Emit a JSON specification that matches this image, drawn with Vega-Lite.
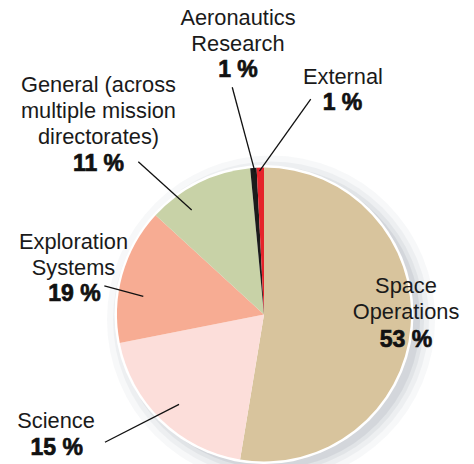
{
  "$schema": "https://vega.github.io/schema/vega-lite/v6.json",
  "width": 474,
  "height": 464,
  "autosize": {"type": "none"},
  "padding": 0,
  "background": "white",
  "config": {"view": {"stroke": null}},
  "datasets": {
    "slices": [
      {"name": "Space Operations", "share": 52.6, "i": 1},
      {"name": "Science", "share": 19.3, "i": 2},
      {"name": "Exploration Systems", "share": 14.9, "i": 3},
      {"name": "General (across multiple mission directorates)", "share": 11.7, "i": 4},
      {"name": "Aeronautics Research", "share": 0.7, "i": 5},
      {"name": "External", "share": 0.8, "i": 6}
    ],
    "labels": [
      {"label": "Aeronautics\nResearch", "x": -17.7, "y": 196.9, "pct": "1 %", "pctX": -17.7, "pctY": 161.4},
      {"label": "External", "x": 53.7, "y": 157.1, "pct": "1 %", "pctX": 53.4, "pctY": 139.1},
      {"label": "General (across\nmultiple mission\ndirectorates)", "x": -112.6, "y": 151.4, "pct": "11 %", "pctX": -112.6, "pctY": 97.8},
      {"label": "Exploration\nSystems", "x": -129.6, "y": 44.6, "pct": "19 %", "pctX": -128.9, "pctY": 9.2},
      {"label": "Space\nOperations", "x": 96.6, "y": 14.4, "pct": "53 %", "pctX": 96.6, "pctY": -21.9},
      {"label": "Science", "x": -141.5, "y": -77.4, "pct": "15 %", "pctX": -141.0, "pctY": -95.6}
    ],
    "leaders": [
      {"for": "Aeronautics Research", "x1": -21.6, "y1": 154.6, "x2": -6.1, "y2": 96.9},
      {"for": "External", "x1": 31.8, "y1": 146.6, "x2": -3.1, "y2": 97.6},
      {"for": "General", "x1": -85.5, "y1": 103.9, "x2": -49.2, "y2": 71.1},
      {"for": "Exploration Systems", "x1": -108.6, "y1": 19.4, "x2": -82.1, "y2": 12.4},
      {"for": "Science", "x1": -108.2, "y1": -86.9, "x2": -57.8, "y2": -61.1}
    ]
  },
  "layer": [
    {
      "data": {"name": "slices"},
      "transform": [{"aggregate": [{"op": "sum", "field": "share", "as": "total"}]}],
      "mark": {"type": "arc", "outerRadius": 164, "fill": "#7d8894", "opacity": 0.06},
      "encoding": {
        "theta": {"field": "total", "type": "quantitative"},
        "x": {"datum": 4.8, "type": "quantitative", "scale": {"domain": [-179.59, 142.86], "nice": false, "zero": false}, "axis": null},
        "y": {"datum": -3.4, "type": "quantitative", "scale": {"domain": [-101.7, 213.95], "nice": false, "zero": false}, "axis": null}
      }
    },
    {
      "data": {"name": "slices"},
      "transform": [{"aggregate": [{"op": "sum", "field": "share", "as": "total"}]}],
      "mark": {"type": "arc", "outerRadius": 158, "fill": "#7d8894", "opacity": 0.08},
      "encoding": {
        "theta": {"field": "total", "type": "quantitative"},
        "x": {"datum": 4.8, "type": "quantitative", "scale": {"domain": [-179.59, 142.86], "nice": false, "zero": false}, "axis": null},
        "y": {"datum": -3.4, "type": "quantitative", "scale": {"domain": [-101.7, 213.95], "nice": false, "zero": false}, "axis": null}
      }
    },
    {
      "data": {"name": "slices"},
      "transform": [{"aggregate": [{"op": "sum", "field": "share", "as": "total"}]}],
      "mark": {"type": "arc", "outerRadius": 153, "fill": "#7d8894", "opacity": 0.1},
      "encoding": {
        "theta": {"field": "total", "type": "quantitative"},
        "x": {"datum": 4.8, "type": "quantitative", "scale": {"domain": [-179.59, 142.86], "nice": false, "zero": false}, "axis": null},
        "y": {"datum": -3.4, "type": "quantitative", "scale": {"domain": [-101.7, 213.95], "nice": false, "zero": false}, "axis": null}
      }
    },
    {
      "data": {"name": "slices"},
      "transform": [{"aggregate": [{"op": "sum", "field": "share", "as": "total"}]}],
      "mark": {"type": "arc", "outerRadius": 149, "fill": "#7d8894", "opacity": 0.14},
      "encoding": {
        "theta": {"field": "total", "type": "quantitative"},
        "x": {"datum": 4.8, "type": "quantitative", "scale": {"domain": [-179.59, 142.86], "nice": false, "zero": false}, "axis": null},
        "y": {"datum": -3.4, "type": "quantitative", "scale": {"domain": [-101.7, 213.95], "nice": false, "zero": false}, "axis": null}
      }
    },
    {
      "data": {"name": "slices"},
      "transform": [{"aggregate": [{"op": "sum", "field": "share", "as": "total"}]}],
      "mark": {"type": "arc", "outerRadius": 149.5, "fill": "white"},
      "encoding": {
        "theta": {"field": "total", "type": "quantitative"},
        "x": {"datum": 0, "type": "quantitative", "scale": {"domain": [-179.59, 142.86], "nice": false, "zero": false}, "axis": null},
        "y": {"datum": 0, "type": "quantitative", "scale": {"domain": [-101.7, 213.95], "nice": false, "zero": false}, "axis": null}
      }
    },
    {
      "data": {"name": "slices"},
      "mark": {"type": "arc", "outerRadius": 147},
      "encoding": {
        "theta": {"field": "share", "type": "quantitative", "stack": true},
        "order": {"field": "i", "type": "quantitative"},
        "color": {
          "field": "name",
          "type": "nominal",
          "scale": {
            "domain": ["Space Operations", "Science", "Exploration Systems", "General (across multiple mission directorates)", "Aeronautics Research", "External"],
            "range": ["#D8C49D", "#FCDEDA", "#F7AC93", "#C8D2A7", "#1B1B1B", "#E5232B"]
          },
          "legend": null
        },
        "x": {"datum": 0, "type": "quantitative", "scale": {"domain": [-179.59, 142.86], "nice": false, "zero": false}, "axis": null},
        "y": {"datum": 0, "type": "quantitative", "scale": {"domain": [-101.7, 213.95], "nice": false, "zero": false}, "axis": null}
      }
    },
    {
      "data": {"name": "leaders"},
      "mark": {"type": "rule", "strokeWidth": 1.3, "color": "#111111"},
      "encoding": {
        "x": {"field": "x1", "type": "quantitative", "scale": {"domain": [-179.59, 142.86], "nice": false, "zero": false}, "axis": null},
        "y": {"field": "y1", "type": "quantitative", "scale": {"domain": [-101.7, 213.95], "nice": false, "zero": false}, "axis": null},
        "x2": {"field": "x2"},
        "y2": {"field": "y2"}
      }
    },
    {
      "data": {"name": "labels"},
      "mark": {"type": "text", "font": "Liberation Sans", "fontSize": 21.8, "align": "center", "baseline": "alphabetic", "lineBreak": "\n", "lineHeight": 26, "color": "#1a1a1a"},
      "encoding": {
        "x": {"field": "x", "type": "quantitative", "scale": {"domain": [-179.59, 142.86], "nice": false, "zero": false}, "axis": null},
        "y": {"field": "y", "type": "quantitative", "scale": {"domain": [-101.7, 213.95], "nice": false, "zero": false}, "axis": null},
        "text": {"field": "label", "type": "nominal"}
      }
    },
    {
      "data": {"name": "labels"},
      "mark": {"type": "text", "font": "Liberation Sans", "fontSize": 23, "fontWeight": "bold", "align": "center", "baseline": "alphabetic", "color": "#111111", "stroke": "#111111", "strokeWidth": 0.7},
      "encoding": {
        "x": {"field": "pctX", "type": "quantitative", "scale": {"domain": [-179.59, 142.86], "nice": false, "zero": false}, "axis": null},
        "y": {"field": "pctY", "type": "quantitative", "scale": {"domain": [-101.7, 213.95], "nice": false, "zero": false}, "axis": null},
        "text": {"field": "pct", "type": "nominal"}
      }
    }
  ]
}
